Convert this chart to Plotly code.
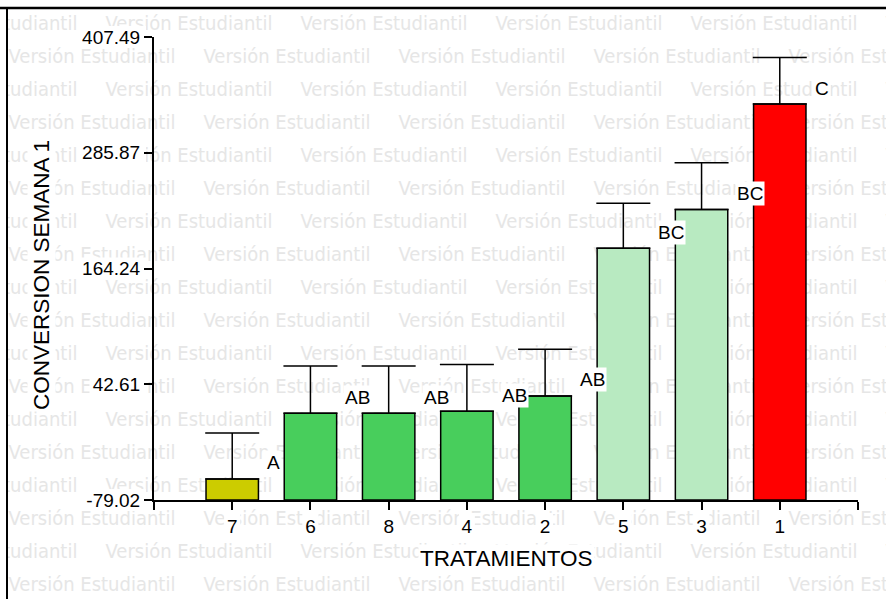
import plotly.graph_objects as go

# Treatments in plotted order, means, standard errors and Tukey letters
tratamientos = ["7", "6", "8", "4", "2", "5", "3", "1"]
medias = [-56.9, 12.1, 12.1, 14.2, 30.3, 185.4, 226.3, 337.0]
errores = [48.3, 49.7, 49.7, 49.2, 49.0, 47.3, 49.0, 49.0]
letras = ["A", "AB", "AB", "AB", "AB", "BC", "BC", "C"]
colores = ["#CCCC00", "#48CE5C", "#48CE5C", "#48CE5C", "#48CE5C",
           "#B8EAC1", "#B8EAC1", "#FF0000"]
y_ticks = [-79.02, 42.61, 164.24, 285.87, 407.49]

W, H = 886, 599
ML, MR, MT, MB = 154, 28, 37, 99
PW, PH = W - ML - MR, H - MT - MB

FONT = "Liberation Sans, Arial, sans-serif"
WM_FONT = "DejaVu Sans Condensed, DejaVu Sans, sans-serif"
WM_TEXT = "Versión Estudiantil"


def px_x(px):
    return (px - ML) / PW


def px_y(py):
    return (H - MB - py) / PH


xs = list(range(len(tratamientos)))
base = y_ticks[0]
# bars rise from the bottom of the axis, not from zero
alturas = [m - base for m in medias]

fig = go.Figure()
fig.add_trace(go.Bar(
    x=xs, y=alturas, base=base, width=0.67,
    marker=dict(color=colores, line=dict(color="black", width=1.5)),
    error_y=dict(type="data", symmetric=False, array=errores,
                 arrayminus=[0] * len(errores),
                 color="black", thickness=1.5, width=27),
    showlegend=False,
))

shapes = []
# student-licence watermark tiled behind the chart
for k in range(18):
    yc = 22 + 33 * k
    starts = [-90 + 195 * j for j in range(6)] if k % 2 == 0 else [8 + 195 * j for j in range(5)]
    for s in starts:
        shapes.append(dict(
            type="rect", xref="paper", yref="paper",
            x0=px_x(s), x1=px_x(s + 168), y0=px_y(yc + 12), y1=px_y(yc - 12),
            line=dict(width=0), fillcolor="rgba(0,0,0,0)", layer="below",
            label=dict(text=WM_TEXT, textposition="middle center",
                       font=dict(family=WM_FONT, size=20, color="#e6e6e6")),
        ))
# blank margin left of the frame
shapes.append(dict(type="rect", xref="paper", yref="paper",
                   x0=px_x(-20), x1=px_x(7), y0=px_y(H + 20), y1=px_y(-20),
                   line=dict(width=0), fillcolor="white", layer="below"))
# white boxes behind the tick labels
y0v, y1v = y_ticks[0], y_ticks[-1]
for v in y_ticks:
    py = MT + (y1v - v) / (y1v - y0v) * PH
    lab = f"{v:.2f}"
    w = len(lab) * 10.5 + 4
    shapes.append(dict(type="rect", xref="paper", yref="paper",
                       x0=px_x(146 - w), x1=px_x(146), y0=px_y(py + 11), y1=px_y(py - 11),
                       line=dict(width=0), fillcolor="white", layer="below"))
for i in xs:
    cx = ML + (i + 1) * PW / 9
    shapes.append(dict(type="rect", xref="paper", yref="paper",
                       x0=px_x(cx - 8), x1=px_x(cx + 8), y0=px_y(537), y1=px_y(513),
                       line=dict(width=0), fillcolor="white", layer="below"))
# outer frame
shapes.append(dict(type="line", xref="paper", yref="paper",
                   x0=px_x(7), x1=px_x(7), y0=px_y(8), y1=px_y(H + 10),
                   line=dict(color="black", width=2)))
shapes.append(dict(type="line", xref="paper", yref="paper",
                   x0=px_x(0), x1=px_x(W + 10), y0=px_y(8), y1=px_y(8),
                   line=dict(color="black", width=2.5)))

annotations = []
for i, (m, l) in enumerate(zip(medias, letras)):
    annotations.append(dict(
        x=i, y=m, xref="x", yref="y", text=l, showarrow=False,
        xanchor="left", yanchor="middle", xshift=33, yshift=16,
        bgcolor="white", borderpad=1,
        font=dict(family=FONT, size=19, color="black"),
    ))
annotations.append(dict(
    x=px_x(41), y=px_y(275), xref="paper", yref="paper", text="CONVERSION SEMANA 1",
    textangle=-90, showarrow=False, xanchor="center", yanchor="middle",
    bgcolor="white", font=dict(family=FONT, size=22.5, color="black"),
))
annotations.append(dict(
    x=0.5, y=px_y(558), xref="paper", yref="paper", text="TRATAMIENTOS",
    showarrow=False, xanchor="center", yanchor="middle",
    bgcolor="white", font=dict(family=FONT, size=22.5, color="black"),
))

fig.update_layout(
    width=W, height=H,
    margin=dict(l=ML, r=MR, t=MT, b=MB, pad=0),
    paper_bgcolor="white", plot_bgcolor="rgba(0,0,0,0)",
    shapes=shapes, annotations=annotations,
    xaxis=dict(
        range=[-1, len(tratamientos)],
        tickvals=[-1] + xs + [len(tratamientos)],
        ticktext=[""] + tratamientos + [""],
        showline=True, linecolor="black", linewidth=2,
        ticks="outside", ticklen=8, tickwidth=2, tickcolor="black",
        showgrid=False, zeroline=False,
        tickfont=dict(family=FONT, size=19, color="black"),
    ),
    yaxis=dict(
        range=[y_ticks[0], y_ticks[-1]],
        tickvals=y_ticks, ticktext=[f"{v:.2f}" for v in y_ticks],
        showline=True, linecolor="black", linewidth=2,
        ticks="outside", ticklen=8, tickwidth=2, tickcolor="black",
        showgrid=False, zeroline=False,
        tickfont=dict(family=FONT, size=19, color="black"),
    ),
)

fig.write_html("out.html")
